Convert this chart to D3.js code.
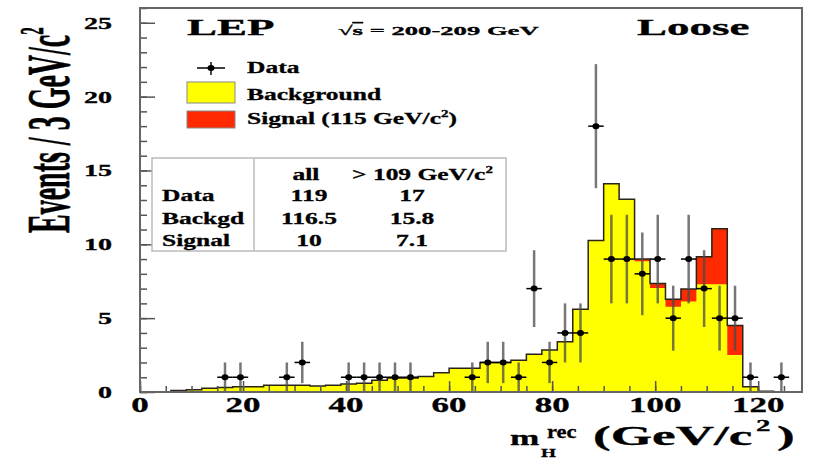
<!DOCTYPE html>
<html lang="en">
<head>
<meta charset="utf-8">
<title>LEP Loose</title>
<script src="https://cdn.jsdelivr.net/npm/d3@7"></script>
<style>
  body { margin: 0; background: #fff; }
  svg text { font-family: "Liberation Serif", "DejaVu Serif", serif; font-weight: bold; fill: #000; stroke: #000; stroke-width: 0.3; }
</style>
</head>
<body>
<svg id="chart" width="828" height="459"></svg>
<script>
// bin lower edges (3 GeV bins)
var binLo = [0, 3, 6, 9, 12, 15, 18, 21, 24, 27, 30, 33, 36, 39, 42, 45, 48, 51, 54, 57,
             60, 63, 66, 69, 72, 75, 78, 81, 84, 87, 90, 93, 96, 99, 102, 105, 108, 111, 114, 117,
             120, 123, 126];
var background = [0, 0, 0.1, 0.15, 0.25, 0.3, 0.35, 0.35, 0.45, 0.45, 0.45, 0.4, 0.45, 0.55, 0.6, 0.8, 0.95, 0.95, 1.05, 1.3,
                  1.6, 1.6, 2.0, 2.0, 2.15, 2.55, 2.85, 3.4, 5.6, 10.25, 14.1, 13.05, 8.85, 7.05, 5.78, 6.12, 7.3, 7.3, 2.5, 0.35,
                  0.05, 0.02, 0.02];
var signal = [0, 0, 0, 0, 0, 0, 0, 0, 0, 0, 0, 0, 0, 0, 0, 0, 0, 0, 0, 0,
              0, 0, 0, 0, 0, 0, 0, 0, 0, 0, 0, 0, 0.15, 0.3, 0.5, 0.85, 1.85, 3.75, 2.0, 0,
              0, 0, 0];

// data points: bin centre, count, error
var dataX = [16.5, 19.5, 28.5, 31.5, 40.5, 43.5, 46.5, 49.5, 52.5, 64.5, 67.5, 70.5, 73.5, 76.5, 79.5,
             82.5, 85.5, 88.5, 91.5, 94.5, 97.5, 100.5, 103.5, 106.5, 109.5, 112.5, 115.5, 118.5, 124.5];
var dataN = [1, 1, 1, 2, 1, 1, 1, 1, 1, 1, 2, 2, 1, 7, 2,
             4, 4, 18, 9, 9, 8, 9, 5, 9, 7, 5, 5, 1, 1];
var dataErr = [1, 1, 1, 1.4, 1, 1, 1, 1, 1, 1, 1.4, 1.4, 1, 2.6, 1.4,
               2, 2, 4.2, 3, 3, 2.8, 3, 2.2, 3, 2.6, 2.2, 2.2, 1, 1];

var xTicks = [0, 20, 40, 60, 80, 100, 120];
var yTicks = [0, 5, 10, 15, 20, 25];

var tableCols = ["all", "> 109 GeV/c"];
var tableRows = ["Data", "Backgd", "Signal"];
var tableAll = ["119", "116.5", "10"];
var tableHigh = ["17", "15.8", "7.1"];

var svg = d3.select("#chart");
var x = d3.scaleLinear().domain([0, 128.5]).range([140, 802]);
var y = d3.scaleLinear().domain([0, 26]).range([392, 8]);

// helper for the stretched (wide) text of the picture
function txt(px, py, size, sx, anchor) {
  return svg.append("text")
    .attr("transform", "translate(" + px + "," + py + ") scale(" + sx + ",1)")
    .attr("font-size", size)
    .attr("text-anchor", anchor || "start");
}

svg.append("clipPath").attr("id", "frame")
  .append("rect").attr("x", 140).attr("y", 8).attr("width", 662).attr("height", 384);

function stepPts(vals) {
  var pts = [[binLo[0], 0]];
  vals.forEach(function(v, i) {
    pts.push([binLo[i], v]);
    pts.push([binLo[i] + 3, v]);
  });
  pts.push([binLo[binLo.length - 1] + 3, 0]);
  return pts;
}

var total = background.map(function(v, i) { return v + signal[i]; });
var area = d3.area().x(function(d) { return x(d[0]); }).y0(y(0)).y1(function(d) { return y(d[1]); });
var line = d3.line().x(function(d) { return x(d[0]); }).y(function(d) { return y(d[1]); });

var plot = svg.append("g").attr("clip-path", "url(#frame)");
plot.append("path").attr("d", area(stepPts(total))).attr("fill", "#ff2a00");
plot.append("path").attr("d", area(stepPts(background))).attr("fill", "#ffff00");
plot.append("path").attr("d", line(stepPts(total))).attr("fill", "none")
  .attr("stroke", "#2a2418").attr("stroke-width", 1.5);

// data points
var pts = plot.selectAll(".pt").data(dataX).enter().append("g").attr("class", "pt");
pts.append("line")
  .attr("x1", function(d) { return x(d); }).attr("x2", function(d) { return x(d); })
  .attr("y1", function(d, i) { return y(dataN[i] + dataErr[i]); })
  .attr("y2", function(d, i) { return y(Math.max(0, dataN[i] - dataErr[i])); })
  .attr("stroke", "#4a4a4a").attr("stroke-width", 2.5).attr("opacity", 0.75);
pts.append("line")
  .attr("x1", function(d) { return x(d - 1.5); }).attr("x2", function(d) { return x(d + 1.5); })
  .attr("y1", function(d, i) { return y(dataN[i]); }).attr("y2", function(d, i) { return y(dataN[i]); })
  .attr("stroke", "#000").attr("stroke-width", 1.5);
pts.append("ellipse")
  .attr("cx", function(d) { return x(d); }).attr("cy", function(d, i) { return y(dataN[i]); })
  .attr("rx", 3.5).attr("ry", 3).attr("fill", "#000");

// axes (ticks inward)
function ticksOnly(g) { g.select(".domain").remove(); g.selectAll("line").attr("stroke", "#555").attr("stroke-width", 1.5); }
svg.append("g").attr("transform", "translate(140,0)")
  .call(d3.axisLeft(y).tickValues(d3.range(0, 27, 1)).tickSize(-7).tickFormat("")).call(ticksOnly);
svg.append("g").attr("transform", "translate(140,0)")
  .call(d3.axisLeft(y).tickValues(yTicks).tickSize(-15).tickFormat("")).call(ticksOnly);
svg.append("g").attr("transform", "translate(0,392)")
  .call(d3.axisBottom(x).tickValues(d3.range(0, 129, 5)).tickSize(-6).tickFormat("")).call(ticksOnly);
svg.append("g").attr("transform", "translate(0,392)")
  .call(d3.axisBottom(x).tickValues(xTicks).tickSize(-11).tickFormat("")).call(ticksOnly);

svg.append("rect").attr("x", 140).attr("y", 8).attr("width", 662).attr("height", 384)
  .attr("fill", "none").attr("stroke", "#666").attr("stroke-width", 2);

yTicks.forEach(function(v) { txt(112, y(v) + 6, 16, 1.75, "end").text(v); });
xTicks.forEach(function(v) { txt(x(v), 412, 20, 1.75, "middle").text(v); });

// axis titles
var yt = svg.append("text")
  .attr("transform", "translate(69,233) rotate(-90) scale(1,2.2)")
  .attr("font-size", 28);
yt.append("tspan").text("Events / 3 GeV/c");
yt.append("tspan").attr("font-size", 15).attr("dy", -12).text("2");

txt(510, 445, 22, 1.6).text("m");
txt(541, 457, 12, 1.6).text("H");
txt(547, 438, 18, 1.25).text("rec");
txt(593, 445, 27, 1.97).text("(GeV/c");
txt(756, 431, 17, 1.7).text("2");
txt(777, 445, 27, 1.97).text(")");

// header texts
txt(187, 35, 22.5, 2.0).text("LEP");
var rs = txt(338, 35, 13, 2.05);
rs.append("tspan").text("\u221A");
rs.append("tspan").style("text-decoration", "overline").text("s");
rs.append("tspan").text(" = 200-209  GeV");
txt(637, 35, 22.5, 2.0).text("Loose");

// legend
svg.append("line").attr("x1", 197).attr("x2", 225).attr("y1", 68).attr("y2", 68).attr("stroke", "#000").attr("stroke-width", 1.5);
svg.append("line").attr("x1", 211).attr("x2", 211).attr("y1", 62).attr("y2", 75).attr("stroke", "#4a4a4a").attr("stroke-width", 2);
svg.append("ellipse").attr("cx", 211).attr("cy", 68).attr("rx", 3.5).attr("ry", 3).attr("fill", "#000");
txt(247, 73, 17, 1.5).text("Data");
svg.append("rect").attr("x", 187).attr("y", 82).attr("width", 48).attr("height", 21)
  .attr("fill", "#ffff00").attr("stroke", "#888").attr("stroke-width", 1);
txt(247, 100, 17, 1.5).text("Background");
svg.append("rect").attr("x", 187).attr("y", 111).attr("width", 48).attr("height", 17)
  .attr("fill", "#ff2a00").attr("stroke", "#888").attr("stroke-width", 1);
var sl = txt(247, 124, 17, 1.5);
sl.append("tspan").text("Signal (115 GeV/c");
sl.append("tspan").attr("font-size", 10).attr("dy", -7).text("2");
sl.append("tspan").attr("dy", 7).text(")");

// table
svg.append("rect").attr("x", 152).attr("y", 158).attr("width", 354).attr("height", 93)
  .attr("fill", "#fff").attr("stroke", "#bbb").attr("stroke-width", 1.5);
svg.append("line").attr("x1", 254).attr("x2", 254).attr("y1", 158).attr("y2", 251)
  .attr("stroke", "#bbb").attr("stroke-width", 1.5);
txt(306, 180, 17, 1.5, "middle").text(tableCols[0]);
var hc = txt(352, 180, 17, 1.5);
hc.append("tspan").text(tableCols[1]);
hc.append("tspan").attr("font-size", 10).attr("dy", -7).text("2");
var rowY = [201, 224, 246];
tableRows.forEach(function(r, i) {
  txt(162, rowY[i], 17, 1.5).text(r);
  txt(309, rowY[i], 17, 1.5, "middle").text(tableAll[i]);
  txt(412, rowY[i], 17, 1.5, "middle").text(tableHigh[i]);
});
</script>
</body>
</html>
